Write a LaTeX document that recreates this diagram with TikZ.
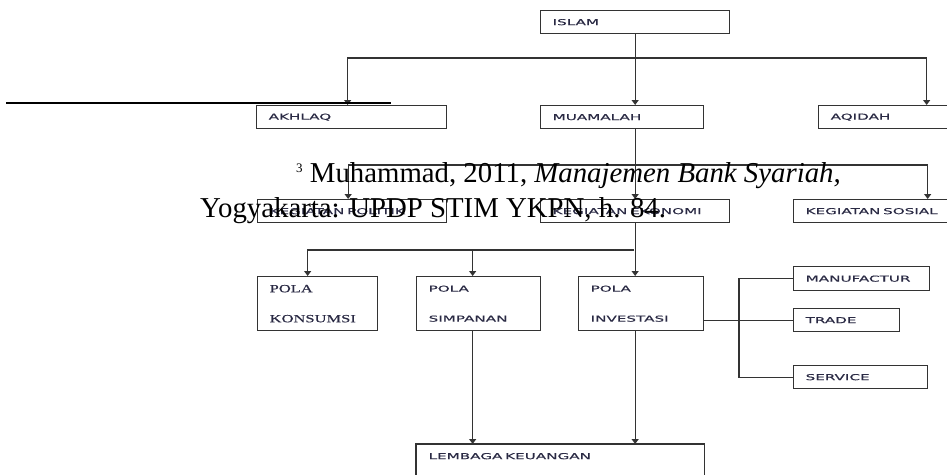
\documentclass[tikz,border=0pt]{standalone}
\usepackage{fontspec}
\setmainfont{Liberation Serif}
\newfontfamily\kotakfont[FakeStretch=1.85,FakeBold=0.4]{DejaVu Sans}
\newfontfamily\polafont[FakeStretch=1.5,FakeBold=0.4]{Liberation Serif}
\usetikzlibrary{arrows.meta}
\definecolor{tinta}{HTML}{2A2A44}
\tikzset{
  kotak/.style={draw=black!80, line width=1.3pt, fill=white, anchor=north west,
    inner xsep=12pt, inner ysep=0pt, align=left, text=tinta,
    font=\kotakfont\fontsize{8.2}{30}\selectfont},
  panah/.style={draw=black!80, line width=1.3pt, -{Triangle[length=5pt,width=7pt]}},
  garis/.style={draw=black!80, line width=1.3pt}
}
\begin{document}
\begin{tikzpicture}[x=1pt,y=-1pt,line cap=butt,line join=miter]
  \useasboundingbox (0,0) rectangle (947,474);
  \clip (0,0) rectangle (947,474);
  \node[kotak, text width=165pt, minimum height=23pt] (islam) at (540,10) {ISLAM};
  \node[kotak, text width=166pt, minimum height=23pt] (akhlaq) at (256,105) {AKHLAQ};
  \node[kotak, text width=139pt, minimum height=23pt] (muamalah) at (540,105) {MUAMALAH};
  \node[kotak, text width=192pt, minimum height=23pt] (aqidah) at (818,105) {AQIDAH};
  \node[kotak, text width=165pt, minimum height=23pt] (politik) at (257,199) {KEGIATAN POLITIK};
  \node[kotak, text width=165pt, minimum height=23pt] (ekonomi) at (540,199) {KEGIATAN EKONOMI};
  \node[kotak, text width=244pt, minimum height=23pt] (sosial) at (793,199) {KEGIATAN SOSIAL};
  \node[kotak, text width=96pt, minimum height=54pt, font=\polafont\fontsize{11}{30}\selectfont] (konsumsi) at (257,276) {POLA\\KONSUMSI};
  \node[kotak, text width=100pt, minimum height=54pt] (simpanan) at (416,276) {POLA\\SIMPANAN};
  \node[kotak, text width=101pt, minimum height=54pt] (investasi) at (578,276) {POLA\\INVESTASI};
  \node[kotak, text width=112pt, minimum height=24pt] (manufactur) at (793,266) {MANUFACTUR};
  \node[kotak, text width=82pt, minimum height=23pt] (trade) at (793,308) {TRADE};
  \node[kotak, text width=110pt, minimum height=23pt] (service) at (793,365) {SERVICE};
  \node[kotak, draw=none, text width=263pt, minimum height=23pt] (lembaga) at (416,444) {LEMBAGA KEUANGAN};
  \draw[garis] ([yshift=-40pt]lembaga.south west) -- (lembaga.north west) -- (lembaga.north east) -- ([yshift=-40pt]lembaga.south east);
  \coordinate (c1) at (634,58);
  \coordinate (c2) at (634,165);
  \coordinate (c3) at (634,250);
  \draw[panah] (islam.south) -- (islam.south |- muamalah.north);
  \draw[panah] (c1) -| ([xshift=-4pt]akhlaq.north);
  \draw[panah] (c1) -| (aqidah.north);
  \draw[panah] (ekonomi.north |- muamalah.south) -- (ekonomi.north);
  \draw[panah] (c2) -| ([xshift=-4pt]politik.north);
  \draw[panah] (c2) -| (sosial.north);
  \draw[panah] (ekonomi.south) -- (ekonomi.south |- investasi.north);
  \draw[panah] (c3) -| ([xshift=-10pt]konsumsi.north);
  \draw[panah] (c3) -| ([xshift=-6pt]simpanan.north);
  \draw[panah] ([xshift=-6pt]simpanan.south) -- ([xshift=-6pt]simpanan.south |- lembaga.north);
  \draw[panah] (ekonomi.south |- investasi.south) -- (ekonomi.south |- lembaga.north);
  \draw[garis] (investasi.east |- trade.west) -- (trade.west);
  \draw[garis] (manufactur.west) -- ++(-54,0) |- (service.west);
  \draw[line width=1.4pt] (6,103) -- (391,103);
  \node[anchor=base west, inner sep=0pt, font=\fontsize{28.8}{33}\selectfont] (catatan1) at (296,182)
    {\raisebox{10pt}{\fontsize{13}{13}\selectfont 3} Muhammad, 2011, \textit{Manajemen Bank Syariah,}};
  \node[anchor=base west, inner sep=0pt, font=\fontsize{28.8}{33}\selectfont] (catatan2) at (200,217)
    {Yogyakarta: UPDP STIM YKPN, h. 84.};
\end{tikzpicture}
\end{document}
